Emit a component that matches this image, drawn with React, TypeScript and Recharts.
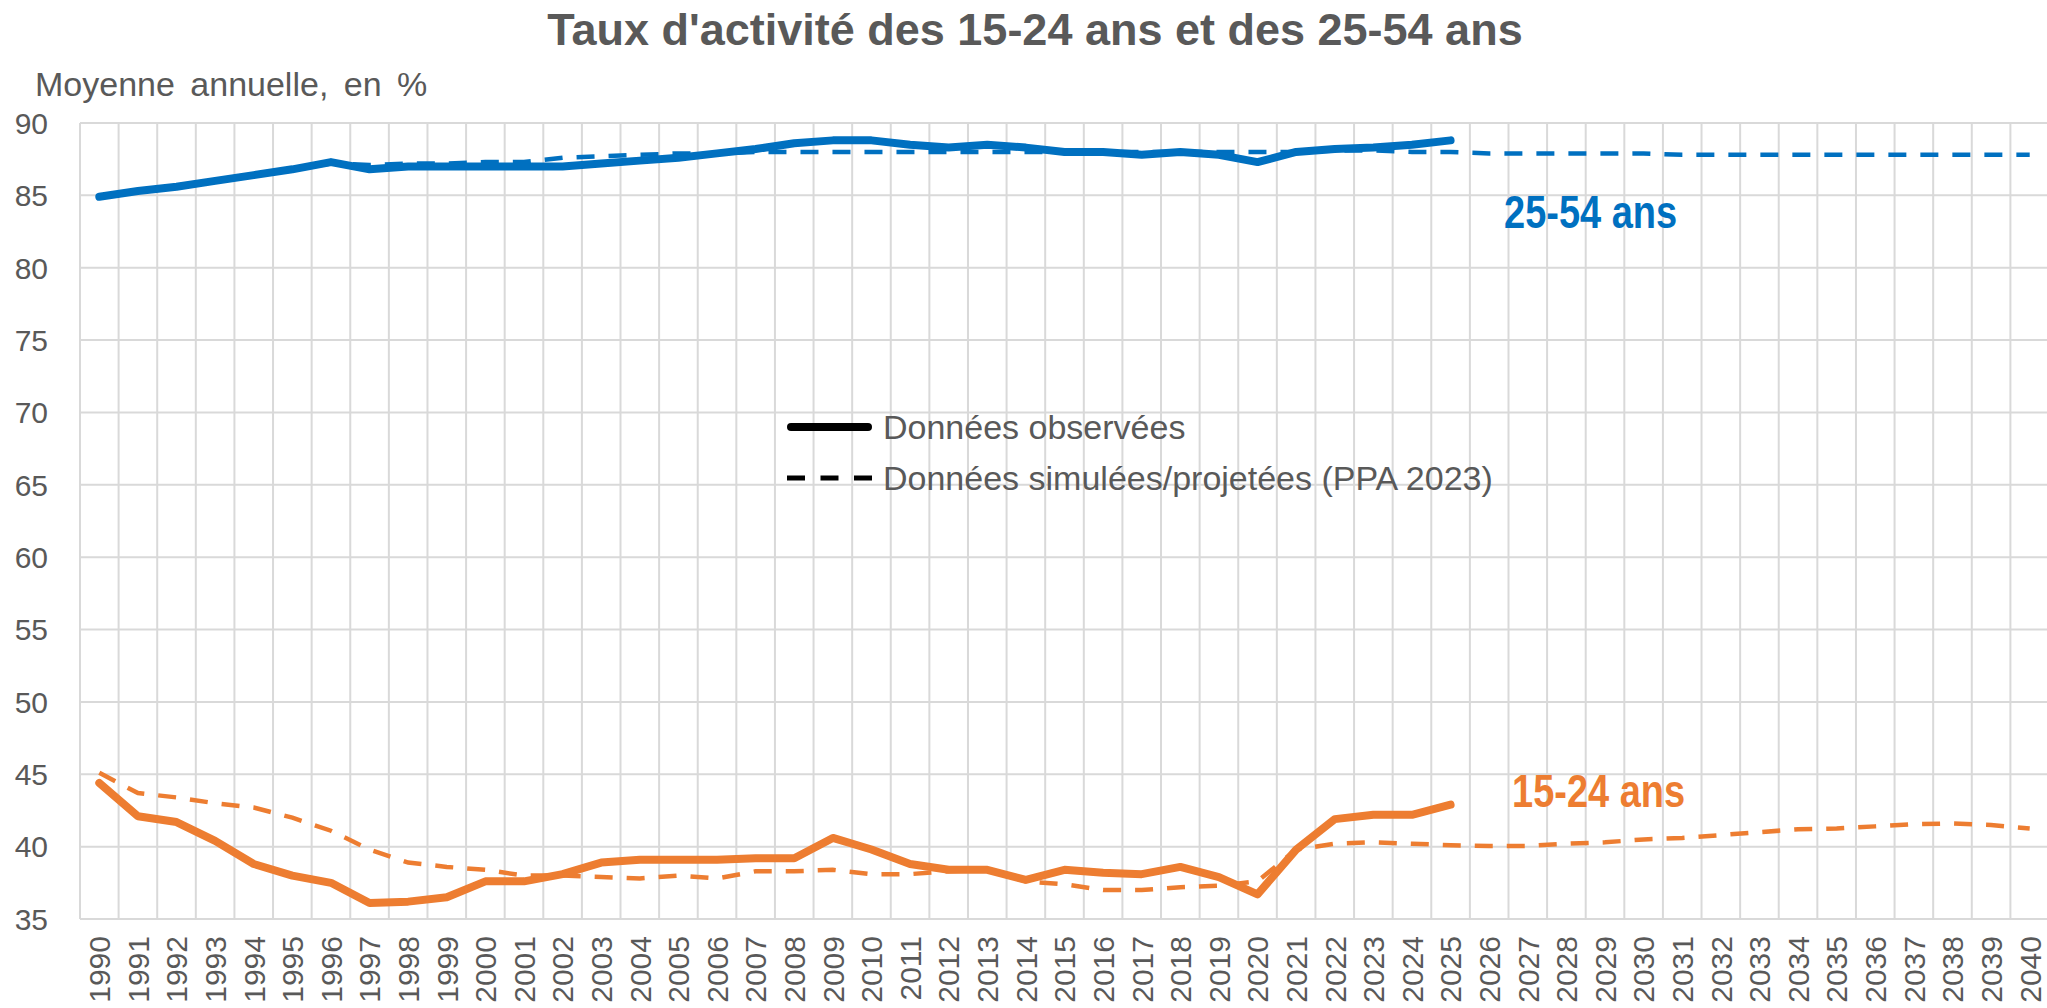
import { CartesianGrid, Line, LineChart, XAxis, YAxis } from "recharts"

const years = [
  "1990", "1991", "1992", "1993", "1994", "1995", "1996", "1997", "1998", "1999",
  "2000", "2001", "2002", "2003", "2004", "2005", "2006", "2007", "2008", "2009",
  "2010", "2011", "2012", "2013", "2014", "2015", "2016", "2017", "2018", "2019",
  "2020", "2021", "2022", "2023", "2024", "2025", "2026", "2027", "2028", "2029",
  "2030", "2031", "2032", "2033", "2034", "2035", "2036", "2037", "2038", "2039",
  "2040",
]

// 25-54 ans, observed 1990-2025
const obs2554 = [
  84.9, 85.3, 85.6, 86.0, 86.4, 86.8, 87.3, 86.8, 87.0, 87.0,
  87.0, 87.0, 87.0, 87.2, 87.4, 87.6, 87.9, 88.2, 88.6, 88.8,
  88.8, 88.5, 88.3, 88.5, 88.3, 88.0, 88.0, 87.8, 88.0, 87.8,
  87.3, 88.0, 88.2, 88.3, 88.5, 88.8,
]

// 25-54 ans, simulated / projected (PPA 2023)
const sim2554 = [
  84.9, 85.3, 85.6, 86.0, 86.4, 86.8, 87.2, 87.1, 87.2, 87.2,
  87.3, 87.3, 87.6, 87.7, 87.8, 87.9, 87.9, 88.0, 88.0, 88.0,
  88.0, 88.0, 88.0, 88.0, 88.0, 88.0, 88.0, 88.0, 88.0, 88.0,
  88.0, 88.0, 88.1, 88.1, 88.0, 88.0, 87.9, 87.9, 87.9, 87.9,
  87.9, 87.8, 87.8, 87.8, 87.8, 87.8, 87.8, 87.8, 87.8, 87.8,
  87.8,
]

// 15-24 ans, observed 1990-2025
const obs1524 = [
  44.4, 42.1, 41.7, 40.4, 38.8, 38.0, 37.5, 36.1, 36.2, 36.5,
  37.6, 37.6, 38.1, 38.9, 39.1, 39.1, 39.1, 39.2, 39.2, 40.6,
  39.8, 38.8, 38.4, 38.4, 37.7, 38.4, 38.2, 38.1, 38.6, 37.9,
  36.7, 39.8, 41.9, 42.2, 42.2, 42.9,
]

// 15-24 ans, simulated / projected (PPA 2023)
const sim1524 = [
  45.1, 43.7, 43.4, 43.0, 42.7, 42.0, 41.1, 39.8, 38.9, 38.6,
  38.4, 38.0, 38.0, 37.9, 37.8, 38.0, 37.8, 38.3, 38.3, 38.4,
  38.1, 38.1, 38.3, 38.4, 37.6, 37.4, 37.0, 37.0, 37.2, 37.3,
  37.6, 39.8, 40.2, 40.3, 40.2, 40.1, 40.05, 40.05, 40.2, 40.3,
  40.5, 40.6, 40.8, 41.0, 41.2, 41.25, 41.4, 41.55, 41.6, 41.5,
  41.25,
]

const yTicks = [35, 40, 45, 50, 55, 60, 65, 70, 75, 80, 85, 90]

const BLUE = "#0070C0"
const ORANGE = "#ED7D31"
const TEXT = "#595959"
const FONT = "'Liberation Sans', Arial, sans-serif"

// plot area spans 80..2049 horizontally
const PLOT_W = 1969
const HALF_CAT = PLOT_W / years.length / 2

const data = years.map((year, i) => ({
  year,
  obs2554: obs2554[i],
  sim2554: sim2554[i],
  obs1524: obs1524[i],
  sim1524: sim1524[i],
}))

function YTick({ y, payload }: any) {
  return (
    <text x={48} y={y} dy="0.36em" textAnchor="end" fontSize={30} fill={TEXT} fontFamily={FONT}>
      {payload.value}
    </text>
  )
}

function XTick({ x, payload }: any) {
  return (
    <text
      transform={`translate(${x},936) rotate(-90)`}
      textAnchor="end"
      dy="0.36em"
      fontSize={30}
      fill={TEXT}
      fontFamily={FONT}
    >
      {payload.value}
    </text>
  )
}

// vertical gridlines sit between categories, like Excel
const boundaryLines = ({ offset }: any) =>
  Array.from({ length: years.length + 1 }, (_, i) => offset.left + (i * offset.width) / years.length)

export default function App() {
  return (
    <div
      style={{
        position: "absolute",
        left: 0,
        top: 0,
        width: 2047,
        height: 1008,
        overflow: "hidden",
        background: "#fff",
      }}
    >
      <LineChart
        width={2060}
        height={1008}
        data={data}
        margin={{ top: 123, right: 11, bottom: 0, left: 0 }}
      >
        <CartesianGrid
          stroke="#D9D9D9"
          strokeWidth={2}
          verticalCoordinatesGenerator={boundaryLines}
        />
        <XAxis
          dataKey="year"
          interval={0}
          height={89}
          padding={{ left: HALF_CAT, right: HALF_CAT }}
          axisLine={false}
          tickLine={false}
          tick={<XTick />}
        />
        <YAxis
          domain={[35, 90]}
          ticks={yTicks}
          width={80}
          axisLine={false}
          tickLine={false}
          tick={<YTick />}
          allowDataOverflow
        />
        <Line
          dataKey="sim2554"
          stroke={BLUE}
          strokeWidth={4.5}
          strokeDasharray="18 14"
          dot={false}
          isAnimationActive={false}
        />
        <Line
          dataKey="sim1524"
          stroke={ORANGE}
          strokeWidth={4.5}
          strokeDasharray="18 14"
          dot={false}
          isAnimationActive={false}
        />
        <Line
          dataKey="obs2554"
          stroke={BLUE}
          strokeWidth={8}
          strokeLinecap="round"
          strokeLinejoin="round"
          dot={false}
          isAnimationActive={false}
        />
        <Line
          dataKey="obs1524"
          stroke={ORANGE}
          strokeWidth={8}
          strokeLinecap="round"
          strokeLinejoin="round"
          dot={false}
          isAnimationActive={false}
        />
      </LineChart>

      <svg
        width={2047}
        height={1008}
        style={{ position: "absolute", left: 0, top: 0, pointerEvents: "none" }}
        fontFamily={FONT}
      >
        <text x={1035} y={45} textAnchor="middle" fontSize={45} fontWeight="bold" fill={TEXT}>
          Taux d'activité des 15-24 ans et des 25-54 ans
        </text>
        <text x={35} y={96} fontSize={34} fill={TEXT} wordSpacing={6}>
          Moyenne annuelle, en %
        </text>

        <line x1={791} x2={868} y1={427} y2={427} stroke="#000" strokeWidth={8} strokeLinecap="round" />
        <text x={883} y={427} dy="0.36em" fontSize={34} fill={TEXT}>
          Données observées
        </text>
        <line x1={787} x2={872} y1={478} y2={478} stroke="#000" strokeWidth={5} strokeDasharray="18 15.5" />
        <text x={883} y={478} dy="0.36em" fontSize={34} fill={TEXT}>
          Données simulées/projetées (PPA 2023)
        </text>

        <text transform="translate(1504,228) scale(1,1.2)" fontSize={38} fontWeight="bold" fill={BLUE}>
          25-54 ans
        </text>
        <text transform="translate(1512,807) scale(1,1.2)" fontSize={38} fontWeight="bold" fill={ORANGE}>
          15-24 ans
        </text>
      </svg>
    </div>
  )
}
